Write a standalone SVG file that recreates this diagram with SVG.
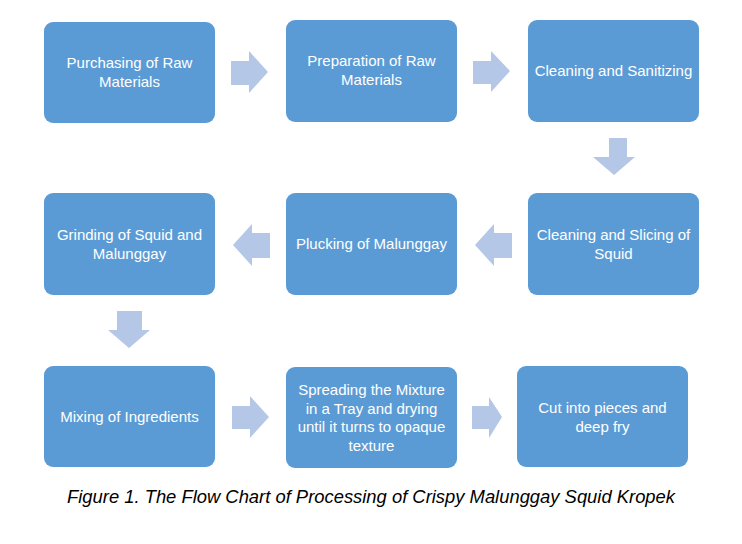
<svg xmlns="http://www.w3.org/2000/svg" width="742" height="544" viewBox="0 0 742 544">
<style>
.box{fill:#5B9BD5}
.t{font-family:"Liberation Sans",Arial,sans-serif;font-size:15px;fill:#fff;text-anchor:middle}
.arr{fill:#B4C7E7}
.cap{font-family:"Liberation Sans",Arial,sans-serif;font-size:18px;font-style:italic;fill:#000}
</style>
<rect width="742" height="544" fill="#fff"/>
<g id="connectors">
<polygon class="arr" points="231,61 249,61 249,51 268,72 249,93 249,85 231,85"/>
<polygon class="arr" points="473,61 491,61 491,51 510,71 491,92 491,84 473,84"/>
<polygon class="arr" points="609,138 627,138 627,157 635,157 614,175 593,157 609,157"/>
<polygon class="arr" points="512,233 494,233 494,224 475,245 494,266 494,258 512,258"/>
<polygon class="arr" points="270,233 252,233 252,224 233,245 252,266 252,258 270,258"/>
<polygon class="arr" points="117,311 142,311 142,330 150,330 129,348 108,330 117,330"/>
<polygon class="arr" points="232,406 250,406 250,396 269,417 250,438 250,429 232,429"/>
<polygon class="arr" points="472,406 489,406 489,397 502,417 489,438 489,429 472,429"/>
</g>
<g id="n1"><rect class="box" x="44" y="22" width="171" height="101" rx="9"/><text class="t" x="129.5" y="68">Purchasing of Raw</text><text class="t" x="129.5" y="87">Materials</text></g>
<g id="n2"><rect class="box" x="286" y="20" width="171" height="102" rx="9"/><text class="t" x="371.5" y="66">Preparation of Raw</text><text class="t" x="371.5" y="85">Materials</text></g>
<g id="n3"><rect class="box" x="528" y="20" width="171" height="102" rx="9"/><text class="t" x="613.5" y="76">Cleaning and Sanitizing</text></g>
<g id="n4"><rect class="box" x="528" y="193" width="171" height="102" rx="9"/><text class="t" x="613.5" y="240">Cleaning and Slicing of</text><text class="t" x="613.5" y="259">Squid</text></g>
<g id="n5"><rect class="box" x="286" y="193" width="171" height="102" rx="9"/><text class="t" x="371.5" y="249">Plucking of Malunggay</text></g>
<g id="n6"><rect class="box" x="44" y="193" width="171" height="102" rx="9"/><text class="t" x="129.5" y="240">Grinding of Squid and</text><text class="t" x="129.5" y="259">Malunggay</text></g>
<g id="n7"><rect class="box" x="44" y="366" width="171" height="101" rx="9"/><text class="t" x="129.5" y="422">Mixing of Ingredients</text></g>
<g id="n8"><rect class="box" x="286" y="367" width="171" height="101" rx="9"/><text class="t" x="371.5" y="395">Spreading the Mixture</text><text class="t" x="371.5" y="414">in a Tray and drying</text><text class="t" x="371.5" y="432">until it turns to opaque</text><text class="t" x="371.5" y="451">texture</text></g>
<g id="n9"><rect class="box" x="517" y="366" width="171" height="101" rx="9"/><text class="t" x="602.5" y="413">Cut into pieces and</text><text class="t" x="602.5" y="432">deep fry</text></g>
<text class="cap" x="67" y="503" textLength="608" lengthAdjust="spacingAndGlyphs">Figure 1. The Flow Chart of Processing of Crispy Malunggay Squid Kropek</text>
</svg>
